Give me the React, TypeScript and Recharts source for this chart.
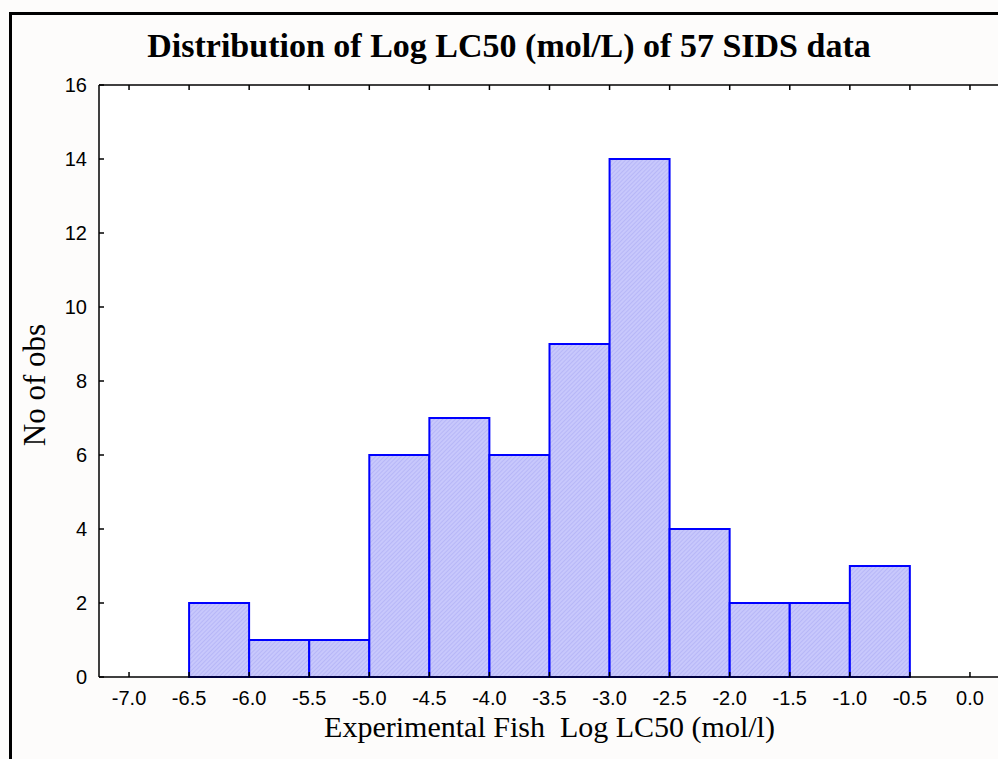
import React from 'react';
import { ComposedChart, Bar, XAxis, YAxis, CartesianGrid } from 'recharts';

// histogram bins: centre of each 0.5-wide bin and its count
const binCenters = [-6.25, -5.75, -5.25, -4.75, -4.25, -3.75, -3.25, -2.75, -2.25, -1.75, -1.25, -0.75];
const binCounts = [2, 1, 1, 6, 7, 6, 9, 14, 4, 2, 2, 3];

const xTicks = [-7.0, -6.5, -6.0, -5.5, -5.0, -4.5, -4.0, -3.5, -3.0, -2.5, -2.0, -1.5, -1.0, -0.5, 0.0];
const yTicks = [0, 2, 4, 6, 8, 10, 12, 14, 16];

const data = binCenters.map((c, i) => ({ x: c, count: binCounts[i] }));

const tickFont = { fontFamily: '"Liberation Sans", Arial, sans-serif', fontSize: 20, fill: '#000' };
const axisStyle = { stroke: '#000', strokeWidth: 1.5 };

const BottomTick = (props: any) => {
  const { x, y, payload } = props;
  return (
    <g>
      <line x1={x} y1={y} x2={x} y2={y - 5} stroke="#000" strokeWidth={1.5} />
      <text x={x} y={y + 28} textAnchor="middle" style={tickFont}>
        {payload.value.toFixed(1)}
      </text>
    </g>
  );
};

const TopTick = (props: any) => {
  const { x, y } = props;
  return <line x1={x} y1={y} x2={x} y2={y + 5} stroke="#000" strokeWidth={1.5} />;
};

const LeftTick = (props: any) => {
  const { x, y, payload } = props;
  return (
    <g>
      <line x1={x} y1={y} x2={x + 5} y2={y} stroke="#000" strokeWidth={1.5} />
      <text x={x - 12} y={y + 7} textAnchor="end" style={tickFont}>
        {payload.value}
      </text>
    </g>
  );
};

const RightTick = (props: any) => {
  const { x, y } = props;
  return <line x1={x} y1={y} x2={x - 5} y2={y} stroke="#000" strokeWidth={1.5} />;
};

export default function App() {
  return (
    <div style={{ position: 'relative', width: 998, height: 759, overflow: 'hidden', background: '#fdfcfb' }}>
      <style>{'body{margin:0;overflow:hidden}'}</style>
      <div
        style={{
          position: 'absolute',
          left: 9,
          top: 12,
          width: 1200,
          height: 1000,
          borderTop: '3px solid #000',
          borderLeft: '3px solid #000',
        }}
      />
      <div
        style={{
          position: 'absolute',
          left: 0,
          top: 26,
          width: 1018,
          textAlign: 'center',
          fontFamily: '"Liberation Serif", "Times New Roman", serif',
          fontWeight: 'bold',
          fontSize: 34,
          lineHeight: '40px',
          color: '#000',
        }}
      >
        Distribution of Log LC50 (mol/L) of 57 SIDS data
      </div>
      <div style={{ position: 'absolute', left: 0, top: 0 }}>
        <ComposedChart
          width={1010}
          height={759}
          data={data}
          margin={{ top: 84, right: 9, bottom: 81, left: 98 }}
          barCategoryGap={0}
          barGap={0}
        >
          <defs>
            <pattern id="hatch" width="3" height="3" patternUnits="userSpaceOnUse" patternTransform="rotate(45)">
              <rect width="3" height="3" fill="#c8c8fc" />
              <line x1="0" y1="0" x2="0" y2="3" stroke="#acacf4" strokeWidth="1.2" />
            </pattern>
          </defs>
          <CartesianGrid horizontal={false} vertical={false} fill="#ffffff" />
          <XAxis
            dataKey="x"
            type="number"
            domain={[-7.25, 0.25]}
            ticks={xTicks}
            allowDataOverflow
            height={1}
            tickSize={0}
            tickMargin={0}
            tickLine={false}
            axisLine={axisStyle}
            tick={<BottomTick />}
            interval={0}
          />
          <XAxis
            xAxisId="top"
            orientation="top"
            dataKey="x"
            type="number"
            domain={[-7.25, 0.25]}
            ticks={xTicks}
            allowDataOverflow
            height={1}
            tickSize={0}
            tickMargin={0}
            tickLine={false}
            axisLine={axisStyle}
            tick={<TopTick />}
            interval={0}
          />
          <YAxis
            type="number"
            domain={[0, 16]}
            ticks={yTicks}
            width={1}
            tickSize={0}
            tickMargin={0}
            tickLine={false}
            axisLine={axisStyle}
            tick={<LeftTick />}
            interval={0}
          />
          <YAxis
            yAxisId="right"
            orientation="right"
            type="number"
            domain={[0, 16]}
            ticks={yTicks}
            width={1}
            tickSize={0}
            tickMargin={0}
            tickLine={false}
            axisLine={axisStyle}
            tick={<RightTick />}
            interval={0}
          />
          <Bar dataKey="count" fill="url(#hatch)" stroke="#0000ff" strokeWidth={2} isAnimationActive={false} />
        </ComposedChart>
      </div>
      <div
        style={{
          position: 'absolute',
          left: 99,
          width: 901,
          top: 712,
          textAlign: 'center',
          fontFamily: '"Liberation Serif", "Times New Roman", serif',
          fontSize: 30,
          lineHeight: '30px',
          whiteSpace: 'pre',
          color: '#000',
        }}
      >
        {'Experimental Fish  Log LC50 (mol/l)'}
      </div>
      <div
        style={{
          position: 'absolute',
          left: 35,
          top: 385,
          transform: 'translate(-100%, -50%) rotate(-90deg) translate(50%, 0)',
          transformOrigin: 'right center',
          fontFamily: '"Liberation Serif", "Times New Roman", serif',
          fontSize: 31,
          lineHeight: '30px',
          whiteSpace: 'nowrap',
          color: '#000',
        }}
      >
        No of obs
      </div>
    </div>
  );
}
